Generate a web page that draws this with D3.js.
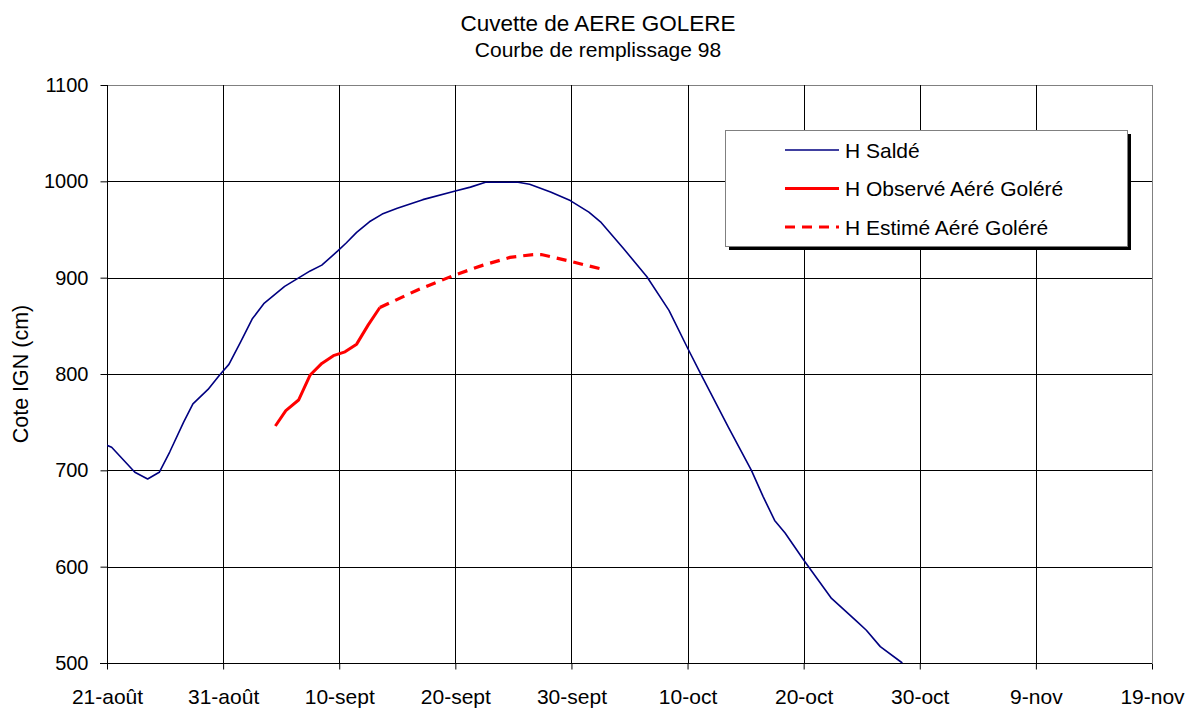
<!DOCTYPE html>
<html><head><meta charset="utf-8">
<script src="https://cdn.jsdelivr.net/npm/d3@7"></script>
<style>body{margin:0;background:#fff;} text{font-family:"Liberation Sans",Arial,sans-serif;fill:#000;}</style>
</head><body>
<svg id="c" width="1196" height="709"></svg>
<script>
// Day offsets from 21-août 1998
const tickDays = [0,10,20,30,40,50,60,70,80,90];
const tickLabels = ["21-août","31-août","10-sept","20-sept","30-sept","10-oct","20-oct","30-oct","9-nov","19-nov"];
const yTicks = [500,600,700,800,900,1000,1100];

const saldeDays = [0,0.4,2.4,3.5,4.5,5.4,6.6,7.4,8.7,9.7,10.5,11.5,12.5,13.5,15.3,17.5,18.5,19.9,20.6,21.5,22.6,23.7,25.0,27.2,30.0,31.3,32.6,34.4,35.4,36.4,38.2,39.9,41.5,42.5,44.5,46.5,48.4,50.0,51.1,53.5,55.5,56.5,57.5,58.4,60.0,62.4,64.6,65.4,66.6,68.5];
const saldeVals = [726,724,698,691,698,719,750,769,784,799,810,833,857,873,891,907,913,928,936,947,958,966,972,981,990,994,999,999,999,997,989,980,968,958,930,901,866,827,801,745,700,673,648,635,607,567,543,534,517,500];

const obsDays = [14.5,15.4,16.5,17.5,18.5,19.5,20.5,21.5,22.5,23.5];
const obsVals = [746,762,773,799,811,819,823,831,851,869];

const estDays = [23.5,26.7,30.0,32.4,34.7,36.7,37.4,39.9,42.9];
const estVals = [869,887,903,913,921,924,924,917,908];

const svg = d3.select("#c");
const L=107,R=1152,T=85,B=663;
const x = d3.scaleLinear().domain([0,90]).range([L,R]);
const y = d3.scaleLinear().domain([500,1100]).range([B,T]);

// title
svg.append("text").attr("x",598).attr("y",31).attr("text-anchor","middle").style("font-size","22.5px").text("Cuvette de AERE GOLERE");
svg.append("text").attr("x",598).attr("y",57).attr("text-anchor","middle").style("font-size","21px").text("Courbe de remplissage 98");

// grid
const g = svg.append("g");
g.selectAll(".hg").data(yTicks).enter().append("line")
 .attr("x1",L).attr("x2",R).attr("y1",d=>Math.round(y(d))+0.5).attr("y2",d=>Math.round(y(d))+0.5)
 .attr("stroke",d=>d===1100?"#808080":"#000").attr("stroke-width",1);
g.selectAll(".vg").data(tickDays).enter().append("line")
 .attr("x1",d=>Math.round(x(d))+0.5).attr("x2",d=>Math.round(x(d))+0.5).attr("y1",T).attr("y2",B)
 .attr("stroke",d=>d===90?"#808080":"#000").attr("stroke-width",1);

// axes
const ya = d3.axisLeft(y).tickValues(yTicks).tickFormat(d3.format("d")).tickSize(7).tickPadding(12);
const ay = svg.append("g").attr("transform",`translate(${L+0.5},0)`).call(ya);
ay.select(".domain").remove();
ay.selectAll("text").style("font-size","20px");
ay.selectAll("line").attr("stroke","#000");

const xa = d3.axisBottom(x).tickValues(tickDays).tickFormat((d,i)=>tickLabels[i]).tickSize(6).tickPadding(20);
const ax = svg.append("g").attr("transform",`translate(0,${B+0.5})`).call(xa);
ax.select(".domain").remove();
ax.selectAll("text").style("font-size","21px");
ax.selectAll("line").attr("stroke","#000");

svg.append("line").attr("x1",L+0.5).attr("x2",L+0.5).attr("y1",T).attr("y2",B+6).attr("stroke","#000");
svg.append("line").attr("x1",L-7).attr("x2",R).attr("y1",B+0.5).attr("y2",B+0.5).attr("stroke","#000");

svg.append("text").attr("transform",`translate(28,${(T+B)/2}) rotate(-90)`).attr("text-anchor","middle")
 .style("font-size","21.5px").text("Cote IGN (cm)");

// clip
svg.append("clipPath").attr("id","clip").append("rect").attr("x",L).attr("y",T).attr("width",R-L).attr("height",B-T+1);
const line = d3.line().x(d=>x(d[0])).y(d=>y(d[1]));
const plot = svg.append("g").attr("clip-path","url(#clip)");
plot.append("path").attr("d",line(d3.zip(saldeDays,saldeVals))).attr("fill","none").attr("stroke","#000080").attr("stroke-width",1.6).attr("stroke-linejoin","round");
plot.append("path").attr("d",line(d3.zip(obsDays,obsVals))).attr("fill","none").attr("stroke","#ff0000").attr("stroke-width",3).attr("stroke-linejoin","round");
plot.append("path").attr("d",line(d3.zip(estDays,estVals))).attr("fill","none").attr("stroke","#ff0000").attr("stroke-width",3.2).attr("stroke-dasharray","10,7");

// legend
const lx=725, ly=130, lw=402, lh=116;
svg.append("rect").attr("x",lx+4).attr("y",ly+4).attr("width",lw).attr("height",lh).attr("fill","#000");
svg.append("rect").attr("x",lx+0.5).attr("y",ly+0.5).attr("width",lw).attr("height",lh).attr("fill","#fff").attr("stroke","#808080");
const items=[["H Saldé","#000080",1.6,null],["H Observé Aéré Goléré","#ff0000",3,null],["H Estimé Aéré Goléré","#ff0000",3.2,"10,7"]];
items.forEach((it,i)=>{
  const yy = ly+20+i*38.5;
  const ln = svg.append("line").attr("x1",785).attr("x2",839).attr("y1",yy).attr("y2",yy).attr("stroke",it[1]).attr("stroke-width",it[2]);
  if(it[3]) ln.attr("stroke-dasharray",it[3]);
  svg.append("text").attr("x",845).attr("y",yy+7.5).style("font-size","21px").text(it[0]);
});
</script>
</body></html>
